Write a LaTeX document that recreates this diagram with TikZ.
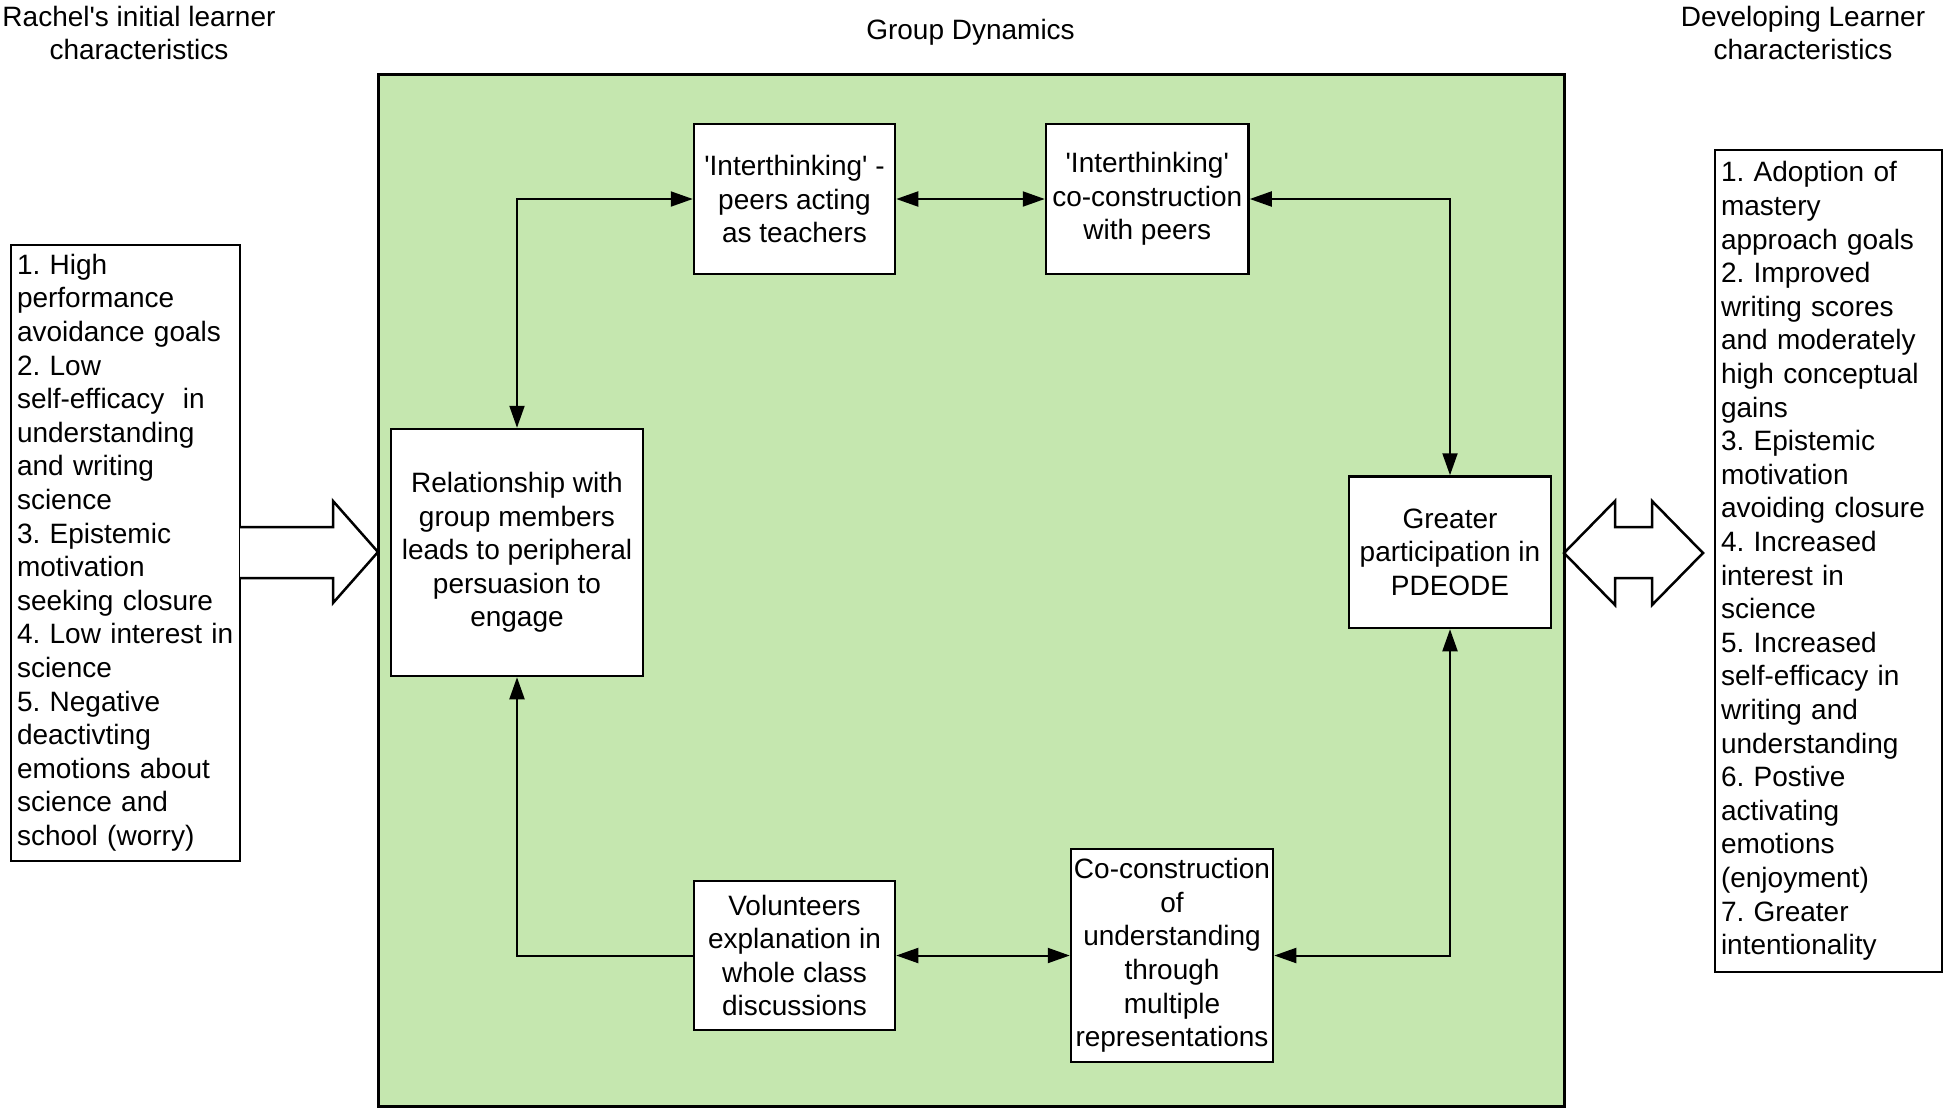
\documentclass[tikz,border=0pt]{standalone}
\usepackage{fontspec}
\setmainfont{Liberation Sans}[Ligatures=TeXOff]
\usetikzlibrary{arrows.meta}
\definecolor{groupgreen}{RGB}{197,231,175}
\newcommand{\dgfont}{\fontsize{28}{33.6}\selectfont\frenchspacing}
\begin{document}
\begin{tikzpicture}[x=1pt,y=-1pt,
  cbox/.style={draw, line width=2.5pt, fill=white, font=\dgfont, align=center, inner sep=0pt},
  lbox/.style={draw, line width=2.5pt, fill=white, font=\dgfont, align=left, inner xsep=6pt, inner ysep=0pt},
  title/.style={font=\dgfont, align=center, inner sep=0pt},
  conn/.style={line width=2pt, line join=miter},
  tipend/.style={-{Triangle[length=22pt,width=15pt]}},
  tipboth/.style={{Triangle[length=22pt,width=15pt]}-{Triangle[length=22pt,width=15pt]}},
  blockarrow/.style={draw, line width=2.5pt, fill=white, line join=miter}]
\useasboundingbox (0,0) rectangle (1946,1112);

% titles
\node[title] (tleft) at (139,33) {Rachel's initial learner\\characteristics};
\node[title] (tmid) at (970.5,32) {Group Dynamics};
\node[title] (tright) at (1803,33) {Developing Learner\\characteristics};

% group dynamics area
\node[draw, line width=3pt, fill=groupgreen, minimum width=1186pt, minimum height=1032pt, inner sep=0pt] (green) at (971,590) {};

% side boxes
\node[lbox, text width=217pt, minimum height=616pt] (leftbox) at (125.5,552.75) {1. High\\performance\\avoidance goals\\2. Low\\self-efficacy~ in\\understanding\\and writing\\science\\3. Epistemic\\motivation\\seeking closure\\\mbox{4. Low interest in}\\science\\5. Negative\\deactivting\\emotions about\\science and\\school (worry)};
\node[lbox, text width=215pt, minimum height=822pt] (rightbox) at (1828.5,561) {1. Adoption of\\mastery\\approach goals\\2. Improved\\writing scores\\and moderately\\high conceptual\\gains\\3. Epistemic\\motivation\\avoiding closure\\4. Increased\\interest in\\science\\5. Increased\\self-efficacy in\\writing and\\understanding\\6. Postive\\activating\\emotions\\(enjoyment)\\7. Greater\\intentionality};

% block arrows
\path[blockarrow] (240,527) -- (333,527) -- (333,501) -- (378,552) -- (333,603) -- (333,578) -- (240,578);
\path[blockarrow] (1564,553) -- (1615,501) -- (1615,527) -- (1652,527) -- (1652,501) -- (1703,553) -- (1652,605) -- (1652,578) -- (1615,578) -- (1615,605) -- cycle;

% inner boxes
\node[cbox, minimum width=201pt, minimum height=150pt] (peers) at (794.5,199) {'Interthinking' -\\peers acting\\as teachers};
\node[cbox, minimum width=202.5pt, minimum height=150pt] (inter) at (1147.25,199) {'Interthinking'\\co-construction\\with peers};
\node[cbox, minimum width=252pt, minimum height=247pt] (rel) at (517,552.5) {Relationship with\\group members\\leads to peripheral\\persuasion to\\engage};
\node[cbox, minimum width=202pt, minimum height=151.5pt] (great) at (1450,552.25) {Greater\\participation in\\PDEODE};
\node[cbox, minimum width=201pt, minimum height=149pt] (vol) at (794.5,955.5) {Volunteers\\explanation in\\whole class\\discussions};
\node[cbox, minimum width=202pt, minimum height=213pt] (cocon) at (1172,955.5) {Co-construction\\of\\understanding\\through\\multiple\\representations};

% connectors
\draw[conn, tipboth] (rel.north) |- (peers.west);
\draw[conn, tipboth] (peers.east) -- (inter.west);
\draw[conn, tipboth] (inter.east) -| (great.north);
\draw[conn, tipend] (vol.west) -| (rel.south);
\draw[conn, tipboth] (vol.east) -- (cocon.west);
\draw[conn, tipboth] (cocon.east) -| (great.south);
\end{tikzpicture}
\end{document}
